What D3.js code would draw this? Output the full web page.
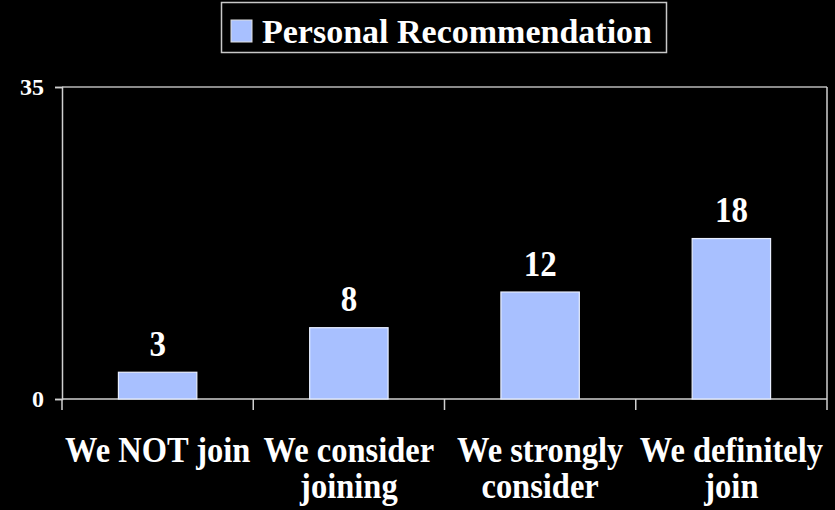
<!DOCTYPE html>
<html>
<head>
<meta charset="utf-8">
<script src="https://cdn.jsdelivr.net/npm/d3@7"></script>
<style>
  html, body { margin: 0; padding: 0; background: #000; }
  svg { display: block; }
</style>
</head>
<body>
<svg id="chart" width="835" height="510"></svg>
<script>
// Chart data
const categories = [["We NOT join"], ["We consider", "joining"], ["We strongly", "consider"], ["We definitely", "join"]];
const values = [3, 8, 12, 18];
const seriesName = "Personal Recommendation";
const yTicks = [0, 35];

const W = 835, H = 510;
const FONT = "Liberation Serif";
const TALL = 1.1; // labels are drawn slightly stretched vertically
const margin = { left: 62, right: 8, top: 87, bottom: 111 };
const svg = d3.select("#chart");
svg.append("rect").attr("width", W).attr("height", H).attr("fill", "#000");

const x = d3.scaleBand()
  .domain(d3.range(categories.length))
  .range([margin.left, W - margin.right])
  .paddingInner(0.59).paddingOuter(0.295);
const xOuter = d3.scaleBand()
  .domain(d3.range(categories.length))
  .range([margin.left, W - margin.right]);
const y = d3.scaleLinear().domain([0, 35]).range([H - margin.bottom, margin.top]);

const axisColor = "#d0d0d0";
const x0 = margin.left, x1 = W - margin.right;
const yTop = y(35), yBot = y(0);

// Plot frame: top and right edges
svg.append("line").attr("x1", x0).attr("x2", x1).attr("y1", yTop).attr("y2", yTop)
  .attr("stroke", "#b8b8b8").attr("stroke-width", 1.5);
svg.append("line").attr("x1", x1).attr("x2", x1).attr("y1", yTop).attr("y2", yBot)
  .attr("stroke", axisColor).attr("stroke-width", 1.5);

// Y axis
const yAxis = svg.append("g").attr("transform", `translate(${x0},0)`)
  .call(d3.axisLeft(y).tickValues(yTicks).tickSize(7).tickPadding(11).tickFormat(d3.format("d")));
yAxis.attr("font-family", FONT).attr("font-weight", "bold");
yAxis.select(".domain").attr("stroke", axisColor).attr("stroke-width", 1.5);
yAxis.selectAll(".tick line").attr("stroke", axisColor).attr("stroke-width", 1.5);
yAxis.selectAll(".tick text").attr("font-size", 24).attr("fill", "#fff");

// X axis with tick marks between categories
const xAxisG = svg.append("g").attr("transform", `translate(0,${yBot})`);
xAxisG.append("line").attr("x1", x0).attr("x2", x1).attr("y1", 0).attr("y2", 0)
  .attr("stroke", axisColor).attr("stroke-width", 1.5);
const bounds = d3.range(categories.length + 1).map(i => i < categories.length ? xOuter(i) : x1);
xAxisG.selectAll("line.tk").data(bounds).join("line").attr("class", "tk")
  .attr("x1", d => d).attr("x2", d => d).attr("y1", 0).attr("y2", 11)
  .attr("stroke", axisColor).attr("stroke-width", 1.5);

// Category labels
const catG = svg.append("g").attr("fill", "#fff")
  .attr("font-family", FONT).attr("font-weight", "bold");
categories.forEach((lines, i) => {
  const cx = xOuter(i) + xOuter.bandwidth() / 2;
  const t = catG.append("text").attr("text-anchor", "middle").attr("font-size", 32.5)
    .attr("transform", `translate(${cx},462) scale(1,${TALL})`);
  lines.forEach((ln, j) => {
    t.append("tspan").attr("x", 0).attr("dy", j === 0 ? 0 : 36 / TALL).text(ln);
  });
});

// Bars
svg.append("g").selectAll("rect").data(values).join("rect")
  .attr("x", (d, i) => x(i))
  .attr("y", d => y(d))
  .attr("width", x.bandwidth())
  .attr("height", d => y(0) - y(d))
  .attr("fill", "#a8c0ff")
  .attr("stroke", "#e8eeff").attr("stroke-width", 1.2);

// Value labels
svg.append("g").attr("fill", "#fff").attr("font-family", FONT).attr("font-weight", "bold")
  .selectAll("text").data(values).join("text")
  .attr("text-anchor", "middle").attr("font-size", 33)
  .attr("transform", (d, i) => `translate(${x(i) + x.bandwidth() / 2},${y(d) - 16.5}) scale(1,${TALL})`)
  .text(d => d);

// Legend
const lg = svg.append("g");
lg.append("rect").attr("x", 221.5).attr("y", 2.5).attr("width", 445).attr("height", 50)
  .attr("fill", "#000").attr("stroke", "#c8c8c8").attr("stroke-width", 1.5);
lg.append("rect").attr("x", 231).attr("y", 20).attr("width", 21).attr("height", 22)
  .attr("fill", "#a8c0ff").attr("stroke", "#e0e0e0").attr("stroke-width", 1);
lg.append("text").attr("x", 262).attr("y", 43).attr("font-size", 34).attr("fill", "#fff")
  .attr("font-family", FONT).attr("font-weight", "bold")
  .text(seriesName);
</script>
</body>
</html>
